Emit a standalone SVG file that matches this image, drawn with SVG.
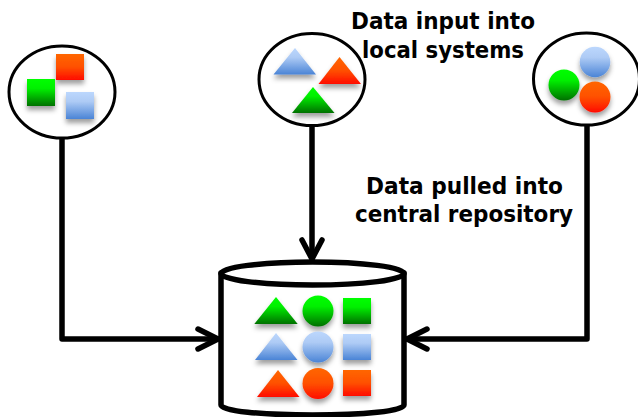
<svg xmlns="http://www.w3.org/2000/svg" width="638" height="417" viewBox="0 0 638 417">
<style>
.bubble{fill:#fff;stroke:#000;stroke-width:3}
.wire{fill:none;stroke:#000;stroke-width:5.500;stroke-linecap:round;stroke-linejoin:round}
.cyl{fill:#fff;stroke:#000;stroke-width:5.500;stroke-linejoin:round}
.g{fill:url(#green);filter:url(#sh)}
.o{fill:url(#orange);filter:url(#sh)}
.b{fill:url(#blue);filter:url(#sh)}
.label{font-family:"DejaVu Sans","Liberation Sans",sans-serif;font-weight:bold;font-size:23.500px;fill:#000}
</style>
<defs>
<linearGradient id="green" x1="0" y1="0" x2="0" y2="1"><stop offset="0" stop-color="#00ff00"/><stop offset="0.35" stop-color="#00f000"/><stop offset="1" stop-color="#007000"/></linearGradient>
<linearGradient id="orange" x1="0" y1="0" x2="0" y2="1"><stop offset="0" stop-color="#ff6600"/><stop offset="0.5" stop-color="#ff5000"/><stop offset="1" stop-color="#ff0c00"/></linearGradient>
<linearGradient id="blue" x1="0" y1="0" x2="0" y2="1"><stop offset="0" stop-color="#bcd7fd"/><stop offset="0.35" stop-color="#aecbf5"/><stop offset="1" stop-color="#4a84d6"/></linearGradient>
<filter id="sh" x="-30%" y="-30%" width="160%" height="170%"><feDropShadow dx="0" dy="4" stdDeviation="2.500" flood-color="#000" flood-opacity="0.38"/></filter>
</defs>
<rect width="638" height="417" fill="#fff"/>
<g id="connectors">
<path class="wire" d="M62 138V339H217"/>
<path class="wire" d="M198 329L218 339L198 349"/>
<path class="wire" d="M312 126V258"/>
<path class="wire" d="M302 240L312 259L322 240"/>
<path class="wire" d="M587 125V339H408"/>
<path class="wire" d="M427 329L407 339L427 349"/>
</g>
<g id="source-squares">
<ellipse class="bubble" cx="62" cy="92" rx="53" ry="46"/>
<rect class="o" x="56" y="54" width="28" height="26"/>
<rect class="g" x="27" y="79" width="28" height="27"/>
<rect class="b" x="66" y="92" width="28" height="27"/>
</g>
<g id="source-triangles">
<ellipse class="bubble" cx="312" cy="79.500" rx="53" ry="46"/>
<polygon class="b" points="295,48 316,74.500 273.500,74.500"/>
<polygon class="o" points="339.500,57 361,84 318.500,84"/>
<polygon class="g" points="313,87 334.500,113 292,113"/>
</g>
<g id="source-circles">
<ellipse class="bubble" cx="586.500" cy="79" rx="53" ry="46"/>
<circle class="b" cx="595" cy="62" r="15.300"/>
<circle class="g" cx="564" cy="85" r="15.500"/>
<circle class="o" cx="595" cy="97" r="15.500"/>
</g>
<g id="repository">
<path class="cyl" d="M221 273V405C221 411 262 415 312.500 415C363 415 404 411 404 405V273Z"/>
<ellipse class="cyl" cx="312.500" cy="273.500" rx="91.500" ry="11.500"/>
<polygon class="g" points="276,297 297.700,324 254.300,324"/>
<circle class="g" cx="318" cy="311" r="15.500"/>
<rect class="g" x="343" y="298" width="28" height="26"/>
<polygon class="b" points="276,333 297.500,360 255,360"/>
<circle class="b" cx="318" cy="347" r="15.500"/>
<rect class="b" x="343" y="334" width="28" height="26"/>
<polygon class="o" points="278,370 299.500,397 257,397"/>
<circle class="o" cx="318" cy="383.500" r="15.500"/>
<rect class="o" x="343" y="370" width="28" height="26"/>
</g>
<g id="labels">
<text class="label" x="351" y="29" textLength="184" lengthAdjust="spacingAndGlyphs">Data input into</text>
<text class="label" x="362" y="58" textLength="162" lengthAdjust="spacingAndGlyphs">local systems</text>
<text class="label" x="366" y="194" textLength="197" lengthAdjust="spacingAndGlyphs">Data pulled into</text>
<text class="label" x="355" y="222" textLength="218" lengthAdjust="spacingAndGlyphs">central repository</text>
</g>
</svg>
